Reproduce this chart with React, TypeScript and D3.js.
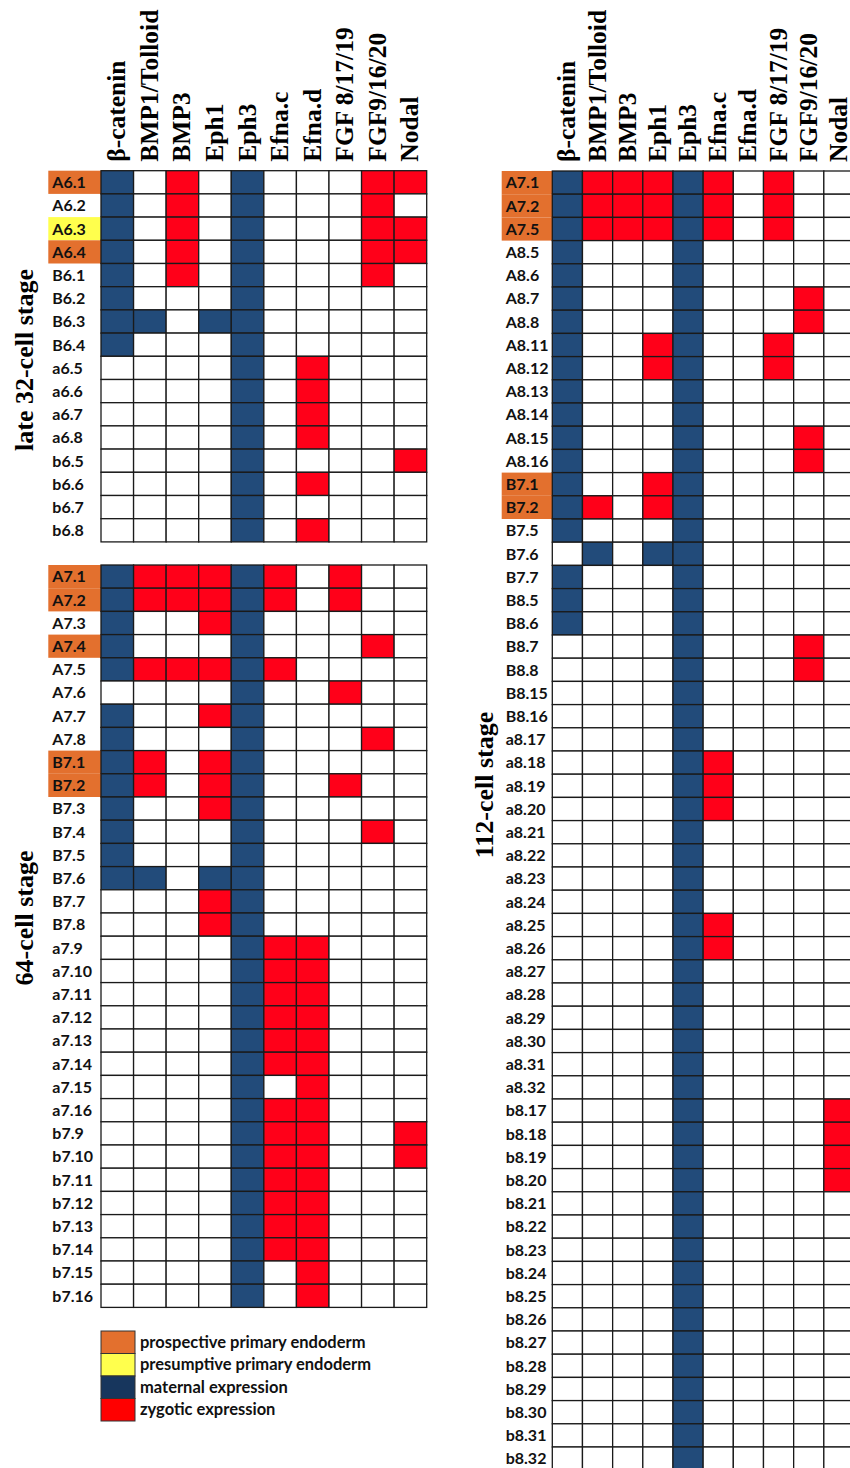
import React from 'react';
import * as d3 from 'd3';

const genes = ['β-catenin', 'BMP1/Tolloid', 'BMP3', 'Eph1', 'Eph3', 'Efna.c', 'Efna.d', 'FGF 8/17/19', 'FGF9/16/20', 'Nodal'];

// one char per gene: m = maternal, z = zygotic, . = none
const cells32 = ['A6.1', 'A6.2', 'A6.3', 'A6.4', 'B6.1', 'B6.2', 'B6.3', 'B6.4', 'a6.5', 'a6.6', 'a6.7', 'a6.8', 'b6.5', 'b6.6', 'b6.7', 'b6.8'];
const expr32 = [
  'm.z.m...zz', 'm.z.m...z.', 'm.z.m...zz', 'm.z.m...zz', 'm.z.m...z.', 'm...m.....', 'mm.mm.....', 'm...m.....',
  '....m.z...', '....m.z...', '....m.z...', '....m.z...', '....m....z', '....m.z...', '....m.....', '....m.z...',
];
const prospective32 = ['A6.1', 'A6.4'];
const presumptive32 = ['A6.3'];

const cells64 = [
  'A7.1', 'A7.2', 'A7.3', 'A7.4', 'A7.5', 'A7.6', 'A7.7', 'A7.8',
  'B7.1', 'B7.2', 'B7.3', 'B7.4', 'B7.5', 'B7.6', 'B7.7', 'B7.8',
  'a7.9', 'a7.10', 'a7.11', 'a7.12', 'a7.13', 'a7.14', 'a7.15', 'a7.16',
  'b7.9', 'b7.10', 'b7.11', 'b7.12', 'b7.13', 'b7.14', 'b7.15', 'b7.16',
];
const expr64 = [
  'mzzzmz.z..', 'mzzzmz.z..', 'm..zm.....', 'm...m...z.', 'mzzzmz....', '....m..z..', 'm..zm.....', 'm...m...z.',
  'mz.zm.....', 'mz.zm..z..', 'm..zm.....', 'm...m...z.', 'm...m.....', 'mm.mm.....', '...zm.....', '...zm.....',
  '....mzz...', '....mzz...', '....mzz...', '....mzz...', '....mzz...', '....mzz...', '....m.z...', '....mzz...',
  '....mzz..z', '....mzz..z', '....mzz...', '....mzz...', '....mzz...', '....mzz...', '....m.z...', '....m.z...',
];
const prospective64 = ['A7.1', 'A7.2', 'A7.4', 'B7.1', 'B7.2'];

const cells112 = [
  'A7.1', 'A7.2', 'A7.5', 'A8.5', 'A8.6', 'A8.7', 'A8.8', 'A8.11', 'A8.12', 'A8.13', 'A8.14', 'A8.15', 'A8.16',
  'B7.1', 'B7.2', 'B7.5', 'B7.6', 'B7.7', 'B8.5', 'B8.6', 'B8.7', 'B8.8', 'B8.15', 'B8.16',
  'a8.17', 'a8.18', 'a8.19', 'a8.20', 'a8.21', 'a8.22', 'a8.23', 'a8.24',
  'a8.25', 'a8.26', 'a8.27', 'a8.28', 'a8.29', 'a8.30', 'a8.31', 'a8.32',
  'b8.17', 'b8.18', 'b8.19', 'b8.20', 'b8.21', 'b8.22', 'b8.23', 'b8.24',
  'b8.25', 'b8.26', 'b8.27', 'b8.28', 'b8.29', 'b8.30', 'b8.31', 'b8.32',
];
const expr112 = [
  'mzzzmz.z..', 'mzzzmz.z..', 'mzzzmz.z..', 'm...m.....', 'm...m.....', 'm...m...z.', 'm...m...z.', 'm..zm..z..', 'm..zm..z..',
  'm...m.....', 'm...m.....', 'm...m...z.', 'm...m...z.',
  'm..zm.....', 'mz.zm.....', 'm...m.....', '.m.mm.....', 'm...m.....', 'm...m.....', 'm...m.....', '....m...z.', '....m...z.',
  '....m.....', '....m.....',
  '....m.....', '....mz....', '....mz....', '....mz....', '....m.....', '....m.....', '....m.....', '....m.....',
  '....mz....', '....mz....', '....m.....', '....m.....', '....m.....', '....m.....', '....m.....', '....m.....',
  '....m....z', '....m....z', '....m....z', '....m....z', '....m.....', '....m.....', '....m.....', '....m.....',
  '....m.....', '....m.....', '....m.....', '....m.....', '....m.....', '....m.....', '....m.....', '....m.....',
];
const prospective112 = ['A7.1', 'A7.2', 'A7.5', 'B7.1', 'B7.2'];

const legendLabels = ['prospective primary endoderm', 'presumptive primary endoderm', 'maternal expression', 'zygotic expression'];

const COLORS = {
  orange: '#E3702E',
  yellow: '#FFFF4D',
  maternal: '#224B7A',
  zygotic: '#FF0019',
  legendMaternal: '#17365D',
  legendZygotic: '#FF0000',
};
const LABEL_FONT = 'Lato, "Open Sans", sans-serif';
const HEAD_FONT = '"Liberation Serif", "DejaVu Serif", serif';
const ROW_H = 23.2;

interface TableProps {
  cells: string[];
  expr: string[];
  prospective: string[];
  presumptive?: string[];
  x0: number;
  x1: number;
  y0: number;
  hlX: number;
  header: boolean;
  stage: string;
  stageX: number;
  stageY: number;
}

const Table: React.FC<TableProps> = ({ cells, expr, prospective, presumptive = [], x0, x1, y0, hlX, header, stage, stageX, stageY }) => {
  const x = d3.scaleBand<string>().domain(genes).range([x0, x1]);
  const y = d3.scaleBand<string>().domain(cells).range([y0, y0 + cells.length * ROW_H]);
  const fillFor = (c: string) => (c === 'm' ? COLORS.maternal : c === 'z' ? COLORS.zygotic : '#fff');

  return (
    <g>
      {header && genes.map(g => (
        <text
          key={g}
          transform={`translate(${x(g)! + x.bandwidth() / 2 + 8},${y0 - 9}) rotate(-90)`}
          fontFamily={HEAD_FONT}
          fontWeight="bold"
          fontSize={25.5}
          fill="#000"
        >{g}</text>
      ))}
      <text
        transform={`translate(${stageX},${stageY}) rotate(-90)`}
        textAnchor="middle"
        fontFamily={HEAD_FONT}
        fontWeight="bold"
        fontSize={26}
        fill="#000"
      >{stage}</text>
      {cells.map((c, i) => {
        const hl = prospective.includes(c) ? COLORS.orange : presumptive.includes(c) ? COLORS.yellow : null;
        return (
          <g key={c}>
            {hl && <rect x={hlX} y={y(c)!} width={x0 - hlX} height={y.bandwidth()} fill={hl} />}
            <text x={hlX + 4} y={y(c)! + y.bandwidth() / 2 + 5.8} fontFamily={LABEL_FONT} fontWeight="bold" fontSize={16} fill="#111">{c}</text>
            {genes.map((g, j) => (
              <rect
                key={g}
                x={x(g)!}
                y={y(c)!}
                width={x.bandwidth()}
                height={y.bandwidth()}
                fill={fillFor(expr[i][j])}
                stroke="#1a1a1a"
                strokeWidth={1.3}
              />
            ))}
          </g>
        );
      })}
    </g>
  );
};

export default function App() {
  const legendColors = [COLORS.orange, COLORS.yellow, COLORS.legendMaternal, COLORS.legendZygotic];
  const ly = d3.scaleBand<string>().domain(legendLabels).range([1331, 1421]);
  return (
    <svg width={850} height={1468} style={{ position: 'absolute', left: 0, top: 0, background: '#fff' }}>
      <rect width={850} height={1468} fill="#fff" />
      <Table cells={cells32} expr={expr32} prospective={prospective32} presumptive={presumptive32}
        x0={101} x1={426.7} y0={170.7} hlX={48.3} header stage="late 32-cell stage" stageX={33} stageY={360} />
      <Table cells={cells64} expr={expr64} prospective={prospective64}
        x0={101} x1={426.7} y0={565} hlX={48.3} header={false} stage="64-cell stage" stageX={33} stageY={918} />
      <Table cells={cells112} expr={expr112} prospective={prospective112}
        x0={552.3} x1={854} y0={171} hlX={501.7} header stage="112-cell stage" stageX={493} stageY={785} />
      {legendLabels.map((l, i) => (
        <g key={l}>
          <rect x={101} y={ly(l)!} width={34} height={ly.bandwidth()} fill={legendColors[i]} stroke="#333" strokeWidth={1} />
          <text x={140} y={ly(l)! + ly.bandwidth() / 2 + 5.5} fontFamily={LABEL_FONT} fontWeight="bold" fontSize={16.5} fill="#111">{l}</text>
        </g>
      ))}
    </svg>
  );
}
